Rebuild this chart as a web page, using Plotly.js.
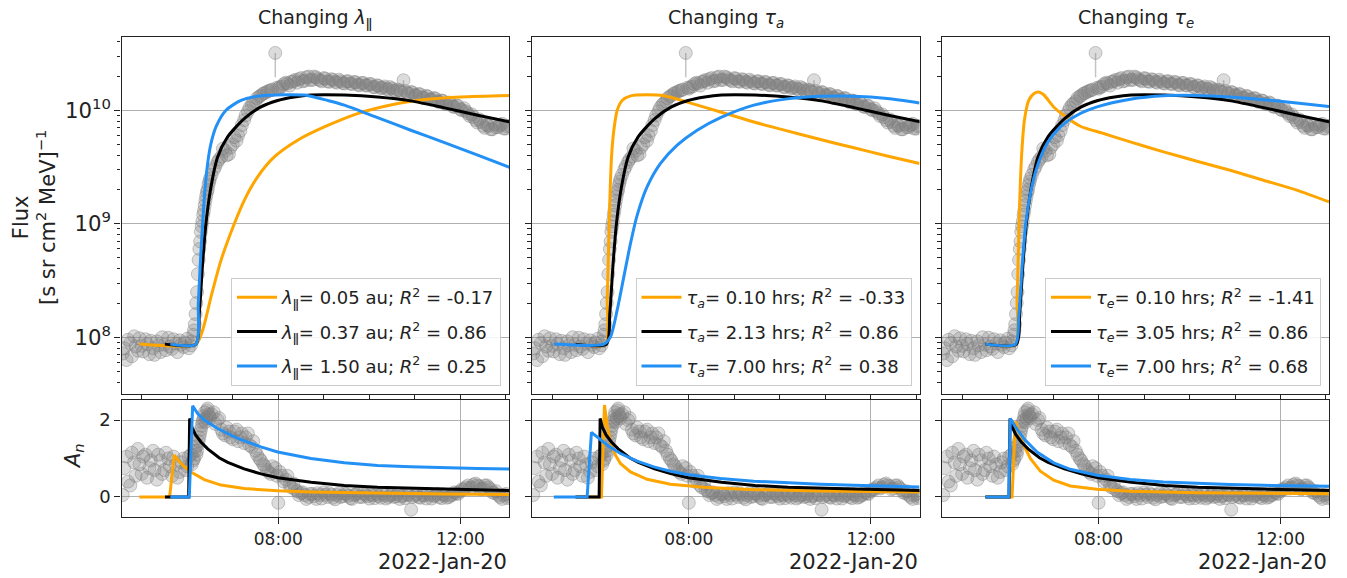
<!DOCTYPE html>
<html><head><meta charset="utf-8">
<script src="https://cdn.plot.ly/plotly-3.0.1.min.js"></script>
<style>html,body{margin:0;padding:0;background:#fff}#chart{width:1347px;height:578px}</style>
</head><body><div id="chart"></div>
<script>
// ---------------- observed data (2022-Jan-20), two interleaved sample sets ----------------
const obsTime = ["04:35","04:40","04:45","04:50","04:55","05:00","05:05","05:10","05:15","05:20","05:25","05:30","05:35","05:40","05:45","05:50","05:55","06:00","06:05","06:08","06:10","06:12","06:14","06:16","06:18","06:20","06:22","06:24","06:26","06:28","06:30","06:35","06:40","06:45","06:50","06:55","07:00","07:05","07:10","07:15","07:20","07:25","07:30","07:35","07:40","07:45","07:50","07:56","08:00","08:05","08:10","08:15","08:20","08:25","08:30","08:35","08:40","08:45","08:50","08:55","09:00","09:05","09:10","09:15","09:20","09:25","09:30","09:35","09:40","09:45","09:50","09:55","10:00","10:05","10:10","10:15","10:20","10:25","10:30","10:35","10:40","10:45","10:50","10:55","11:00","11:05","11:10","11:15","11:20","11:25","11:30","11:35","11:40","11:45","11:50","11:55","12:00","12:05","12:10","12:15","12:20","12:25","12:30","12:35","12:40","12:45","12:50","12:55","13:00","13:05"];
const obsFlux = [7.2e7,6.3e7,8.9e7,1.02e8,7.6e7,8.4e7,9.6e7,7.1e7,8.0e7,9.2e7,7.4e7,8.6e7,9.9e7,7.9e7,8.8e7,9.4e7,8.2e7,9.7e7,8.5e7,1.05e8,1.3e8,2.0e8,3.6e8,6.0e8,8.5e8,1.05e9,1.3e9,1.6e9,1.9e9,2.2e9,2.5e9,3.0e9,3.5e9,3.9e9,4.4e9,4.1e9,5.0e9,5.4e9,6.6e9,8.2e9,9.8e9,1.12e10,1.2e10,1.32e10,1.4e10,1.45e10,1.5e10,3.2e10,1.55e10,1.62e10,1.75e10,1.65e10,1.8e10,1.75e10,1.92e10,1.82e10,1.98e10,1.85e10,1.95e10,1.84e10,1.92e10,1.8e10,1.88e10,1.78e10,1.86e10,1.74e10,1.8e10,1.72e10,1.78e10,1.68e10,1.74e10,1.66e10,1.7e10,1.6e10,1.66e10,1.57e10,1.62e10,1.52e10,1.56e10,1.47e10,1.5e10,1.84e10,1.42e10,1.45e10,1.36e10,1.39e10,1.3e10,1.34e10,1.25e10,1.28e10,1.2e10,1.22e10,1.14e10,1.17e10,1.08e10,1.1e10,1.02e10,1.04e10,9.4e9,9.2e9,8.2e9,8.3e9,7.3e9,7.4e9,6.8e9,7.5e9,7.1e9,7.6e9,6.9e9,7.3e9];
const obsFluxErrLow = [0,0,0,0,0,0,0,0,0,0,0,0,0,0,0,0,0,0,0,0,0,0,0,0,0,0,0,0,0,0,0,0,0,0,0,0,0,0,0,0,0,0,0,0,0,0,0,1.25e10,0,0,0,0,0,0,0,0,0,0,0,0,0,0,0,0,0,0,0,0,0,0,0,0,0,0,0,0,0,0,0,0,0,2.5e9,0,0,0,0,0,0,0,0,0,0,0,0,0,0,0,0,0,0,0,0,0,0,0,0,0,0,0,0];
const obsAn = [0.05,1.05,0.3,0.9,1.25,0.6,1.1,0.75,1.2,0.45,0.95,0.7,1.0,0.55,0.85,0.65,1.0,0.8,1.1,0.95,1.2,1.1,1.35,1.55,1.75,1.95,2.1,1.95,2.25,2.15,2.05,2.2,2.0,1.75,1.6,1.7,1.5,1.75,1.55,1.4,1.65,1.3,1.2,1.0,0.85,0.7,0.6,0.75,-0.15,0.55,0.45,0.3,0.35,0.15,0.1,0.05,0.0,0.08,-0.05,0.05,0.12,0.0,0.06,-0.06,0.1,0.02,0.08,-0.03,0.05,0.1,0.0,0.06,-0.04,0.04,0.08,-0.02,0.05,0.0,0.06,0.02,-0.05,0.04,0.07,-0.33,0.03,0.0,0.06,-0.04,0.05,0.02,0.08,-0.03,0.04,0.0,0.06,0.1,0.15,0.2,0.3,0.25,0.35,0.28,0.22,0.3,0.2,0.1,0.05,-0.05,0.08,0.0];

const obsTimeB = ["04:37","04:42","04:47","04:52","04:57","05:02","05:07","05:12","05:17","05:22","05:27","05:32","05:37","05:42","05:47","05:52","05:57","06:02","06:06","06:09","06:11","06:13","06:15","06:17","06:19","06:21","06:23","06:25","06:27","06:29","06:32","06:37","06:42","06:47","06:52","06:57","07:02","07:07","07:12","07:17","07:22","07:27","07:32","07:37","07:42","07:47","07:52","07:58","08:02","08:07","08:12","08:17","08:22","08:27","08:32","08:37","08:42","08:47","08:52","08:57","09:02","09:07","09:12","09:17","09:22","09:27","09:32","09:37","09:42","09:47","09:52","09:57","10:02","10:07","10:12","10:17","10:22","10:27","10:32","10:37","10:42","10:47","10:52","10:57","11:02","11:07","11:12","11:17","11:22","11:27","11:32","11:37","11:42","11:47","11:52","11:57","12:02","12:07","12:12","12:17","12:22","12:27","12:32","12:37","12:42","12:47","12:52","12:57","13:02"];
const obsFluxB = [8.0e7,9.5e7,6.8e7,8.3e7,9.8e7,7.5e7,8.7e7,9.3e7,7.0e7,8.5e7,1.0e8,7.7e7,8.3e7,9.6e7,7.4e7,8.6e7,9.0e7,8.0e7,9.2e7,1.15e8,1.6e8,2.5e8,4.8e8,7.0e8,9.5e8,1.2e9,1.45e9,1.75e9,2.0e9,2.35e9,2.7e9,3.2e9,3.7e9,4.6e9,4.0e9,4.7e9,5.8e9,6.0e9,7.4e9,9.0e9,1.05e10,1.15e10,1.28e10,1.35e10,1.42e10,1.48e10,1.52e10,1.58e10,1.6e10,1.7e10,1.72e10,1.78e10,1.85e10,1.88e10,1.8e10,1.95e10,1.85e10,1.98e10,1.88e10,1.8e10,1.9e10,1.78e10,1.85e10,1.75e10,1.8e10,1.72e10,1.8e10,1.7e10,1.76e10,1.66e10,1.74e10,1.65e10,1.7e10,1.6e10,1.64e10,1.58e10,1.55e10,1.6e10,1.5e10,1.52e10,1.45e10,1.48e10,1.4e10,1.43e10,1.35e10,1.38e10,1.28e10,1.32e10,1.24e10,1.27e10,1.18e10,1.21e10,1.13e10,1.15e10,1.07e10,1.09e10,1.0e10,9.8e9,8.9e9,8.7e9,7.8e9,7.9e9,7.0e9,7.3e9,6.8e9,7.1e9,7.4e9,6.9e9,7.2e9];
const obsAnB = [0.75,0.4,1.15,0.55,0.85,1.05,0.5,0.95,0.7,1.1,0.6,1.15,0.8,1.05,0.5,0.9,0.7,1.05,0.85,1.0,1.3,1.2,1.45,1.65,1.85,2.0,2.2,2.05,2.3,2.1,2.15,1.9,2.05,1.65,1.8,1.55,1.7,1.45,1.65,1.55,1.35,1.45,1.1,0.95,0.8,0.65,0.8,0.55,0.65,0.4,0.55,0.25,0.2,0.05,0.12,-0.05,0.08,0.02,0.1,-0.04,0.06,0.1,-0.02,0.05,0.0,0.09,0.03,-0.05,0.07,0.0,0.1,0.02,0.06,-0.03,0.03,0.09,-0.04,0.04,0.0,0.08,0.02,-0.03,0.05,0.0,0.07,-0.02,0.04,0.08,-0.04,0.05,0.0,0.07,-0.02,0.04,0.12,0.08,0.2,0.25,0.22,0.32,0.3,0.2,0.3,0.25,0.12,0.15,0.0,0.05,-0.03];

// ---------------- model fits: time in decimal hours ----------------
const bestT   = [5.511,6.192,6.265,6.338,6.411,6.521,6.668,6.887,7.253,7.619,7.985,8.351,8.717,9.45,10.18,10.91,11.65,12.38,13.09];
const bestF   = [8.7e7,8.7e7,1.62e8,4.46e8,1.0e9,2.11e9,3.88e9,5.82e9,8.45e9,1.07e10,1.22e10,1.31e10,1.36e10,1.36e10,1.31e10,1.21e10,1.05e10,9.04e9,7.89e9];
const bestAnT = [5.511,6.031,6.053,6.10,6.18,6.30,6.45,6.70,6.89,7.25,7.62,7.99,8.72,9.45,10.18,10.91,11.65,13.09];
const bestAn  = [0,0,2.04,1.82,1.62,1.43,1.25,1.02,0.90,0.73,0.60,0.50,0.38,0.30,0.255,0.225,0.205,0.17];

const lam005T = [4.947,6.192,6.338,6.521,6.741,7.034,7.253,7.546,7.912,8.425,9.01,9.742,10.548,11.28,12.01,13.09];
const lam005F = [8.7e7,8.7e7,1.15e8,2.26e8,4.76e8,1.0e9,1.61e9,2.59e9,3.88e9,5.45e9,7.13e9,9.35e9,1.13e10,1.25e10,1.31e10,1.35e10];
const lam005AnT = [4.947,5.613,5.716,5.789,5.899,6.082,6.375,6.741,7.253,7.985,8.717,10.18,11.65,13.09];
const lam005An  = [0,0,1.09,0.97,0.83,0.65,0.45,0.31,0.22,0.16,0.13,0.095,0.078,0.062];
const lam150T = [5.628,6.192,6.243,6.287,6.338,6.389,6.448,6.521,6.631,6.851,7.18,7.619,8.132,8.571,9.083,9.45,10.18,10.91,11.65,12.38,13.09];
const lam150F = [8.7e7,8.7e7,1.98e8,4.46e8,1.0e9,1.97e9,3.39e9,5.08e9,7.13e9,1.0e10,1.22e10,1.34e10,1.37e10,1.36e10,1.22e10,1.11e10,8.61e9,6.67e9,5.19e9,4.02e9,3.13e9];
const lam150AnT = [5.628,6.045,6.119,6.228,6.375,6.668,7.107,7.619,7.985,8.717,9.45,10.18,10.91,11.65,12.38,13.09];
const lam150An  = [0,0,2.37,2.17,2.0,1.78,1.52,1.3,1.17,1.0,0.887,0.817,0.783,0.757,0.739,0.73];

const ta010T = [5.512,6.171,6.208,6.237,6.266,6.303,6.354,6.428,6.537,6.72,7.086,7.452,7.965,8.697,9.429,10.161,10.893,11.625,12.357,13.067];
const ta010F = [8.7e7,8.7e7,2.13e8,5.86e8,1.61e9,3.88e9,6.67e9,1.0e10,1.22e10,1.34e10,1.37e10,1.34e10,1.18e10,9.66e9,7.89e9,6.58e9,5.52e9,4.67e9,3.96e9,3.4e9];
const ta010AnT = [5.511,6.082,6.148,6.206,6.28,6.39,6.499,6.719,7.085,7.597,8.329,9.428,10.892,13.066];
const ta010An  = [0,0,2.39,1.87,1.43,1.087,0.87,0.652,0.46,0.33,0.252,0.191,0.157,0.13];
const ta700T = [5.037,6.135,6.281,6.428,6.574,6.72,6.867,7.086,7.379,7.745,8.184,8.697,9.429,10.161,10.893,11.625,12.357,13.067];
const ta700F = [8.7e7,8.7e7,1.01e8,1.74e8,3.42e8,6.71e8,1.19e9,2.12e9,3.4e9,4.92e9,6.67e9,8.61e9,1.11e10,1.26e10,1.33e10,1.33e10,1.27e10,1.16e10];
const ta700AnT = [5.035,5.767,5.862,5.987,6.206,6.499,6.865,7.231,7.597,7.963,8.695,9.428,10.16,10.892,11.624,12.356,13.066];
const ta700An  = [0,0,1.68,1.565,1.35,1.13,0.93,0.783,0.67,0.583,0.478,0.409,0.365,0.33,0.304,0.278,0.26];

const te010T = [5.512,6.171,6.208,6.237,6.266,6.31,6.369,6.464,6.574,6.684,6.794,7.013,7.233,7.599,8.111,8.697,9.429,10.161,10.893,11.625,12.357,13.067];
const te010F = [8.7e7,8.7e7,2.13e8,5.86e8,1.61e9,4.16e9,8.17e9,1.22e10,1.4e10,1.45e10,1.37e10,1.07e10,9.04e9,7.23e9,6.24e9,5.26e9,4.3e9,3.56e9,2.96e9,2.42e9,1.98e9,1.56e9];
const te010AnT = [5.511,6.097,6.17,6.243,6.353,6.499,6.719,7.012,7.378,7.963,8.695,10.16,11.624,13.066];
const te010An  = [0,0,1.96,1.7,1.35,1.0,0.67,0.435,0.287,0.2,0.148,0.113,0.096,0.087];
const te700T = [5.512,6.171,6.244,6.318,6.391,6.501,6.647,6.867,7.16,7.526,7.965,8.697,9.429,10.161,10.893,11.625,12.357,13.067];
const te700F = [8.7e7,8.7e7,1.52e8,4.19e8,9.42e8,1.85e9,3.17e9,5.09e9,7.13e9,9.04e9,1.07e10,1.25e10,1.34e10,1.35e10,1.31e10,1.24e10,1.16e10,1.08e10];
const te700AnT = [5.511,6.023,6.06,6.17,6.353,6.646,7.012,7.378,7.963,8.695,9.428,10.16,10.892,11.624,13.066];
const te700An  = [0,0,2.04,1.83,1.52,1.17,0.887,0.72,0.565,0.452,0.391,0.348,0.322,0.304,0.278];

// ---------------- text ----------------
const PAR = "\u01C1";
const panelTitles = ["Changing <i>λ</i><sub>" + PAR + "</sub>", "Changing <i>τ</i><sub><i>a</i></sub>", "Changing <i>τ</i><sub><i>e</i></sub>"];
const legendLabels = [
  ["<i>λ</i><sub>" + PAR + "</sub>= 0.05 au; <i>R</i><sup>2</sup> = -0.17", "<i>λ</i><sub>" + PAR + "</sub>= 0.37 au; <i>R</i><sup>2</sup> = 0.86", "<i>λ</i><sub>" + PAR + "</sub>= 1.50 au; <i>R</i><sup>2</sup> = 0.25"],
  ["<i>τ</i><sub><i>a</i></sub>= 0.10 hrs; <i>R</i><sup>2</sup> = -0.33", "<i>τ</i><sub><i>a</i></sub>= 2.13 hrs; <i>R</i><sup>2</sup> = 0.86", "<i>τ</i><sub><i>a</i></sub>= 7.00 hrs; <i>R</i><sup>2</sup> = 0.38"],
  ["<i>τ</i><sub><i>e</i></sub>= 0.10 hrs; <i>R</i><sup>2</sup> = -1.41", "<i>τ</i><sub><i>e</i></sub>= 3.05 hrs; <i>R</i><sup>2</sup> = 0.86", "<i>τ</i><sub><i>e</i></sub>= 7.00 hrs; <i>R</i><sup>2</sup> = 0.68"]
];
const timeTickVals = ["08:00", "12:00"];
const dateLabel = "2022-Jan-20";

// ---------------- helpers ----------------
const DAY = "2022-01-20 ";
const pad = n => String(n).padStart(2, "0");
const hd = h => { const s = Math.round(h * 3600); return DAY + pad(Math.floor(s / 3600)) + ":" + pad(Math.floor(s % 3600 / 60)) + ":" + pad(s % 60); };
const allX = obsTime.concat(obsTimeB).map(t => DAY + t);
const allFlux = obsFlux.concat(obsFluxB);
const allErr = obsFluxErrLow.concat(obsFluxB.map(() => 0));
const allAn = obsAn.concat(obsAnB);

const ORANGE = "#FFA500", BLACK = "#000000", BLUE = "#2390F5";
const W = 1347, H = 578;
const xDom = [[121.5, 509], [532, 919.5], [942, 1329]];
const topDom = [(H - 394) / H, (H - 36.5) / H];
const botDom = [(H - 517) / H, (H - 400) / H];
const xRange = [DAY + "04:33:24", DAY + "13:04:00"];

const fits = [
  {flux: [[lam005T, lam005F], [bestT, bestF], [lam150T, lam150F]], an: [[lam005AnT, lam005An], [bestAnT, bestAn], [lam150AnT, lam150An]]},
  {flux: [[ta010T, ta010F], [bestT, bestF], [ta700T, ta700F]], an: [[ta010AnT, ta010An], [bestAnT, bestAn], [ta700AnT, ta700An]]},
  {flux: [[te010T, te010F], [bestT, bestF], [te700T, te700F]], an: [[te010AnT, te010An], [bestAnT, bestAn], [te700AnT, te700An]]}
];
const colors = [ORANGE, BLACK, BLUE];

const traces = [];
const layout = {
  width: W, height: H, margin: {l: 0, r: 0, t: 0, b: 0},
  paper_bgcolor: "#fff", plot_bgcolor: "#fff",
  font: {family: "DejaVu Sans", size: 16, color: "#222"},
  showlegend: true, annotations: []
};

const obsMarker = {size: 13, color: "rgba(128,128,128,0.28)", line: {color: "rgba(120,120,120,0.4)", width: 1}};

for (let p = 0; p < 3; p++) {
  const xa = p === 0 ? "x" : "x" + (p + 1), ya = p === 0 ? "y" : "y" + (p + 1);
  const xb = "x" + (p + 4), yb = "y" + (p + 4);
  const legName = p === 0 ? "legend" : "legend" + (p + 1);
  traces.push({x: allX, y: allFlux, xaxis: xa, yaxis: ya, type: "scatter", mode: "markers", showlegend: false, hoverinfo: "skip",
    marker: obsMarker,
    error_y: {type: "data", symmetric: false, array: allErr.map(() => 0), arrayminus: allErr, color: "rgba(170,170,170,0.7)", thickness: 1.5, width: 0}});
  traces.push({x: allX, y: allAn, xaxis: xb, yaxis: yb, type: "scatter", mode: "markers", showlegend: false, hoverinfo: "skip",
    marker: obsMarker});
  for (let k = 0; k < 3; k++) {
    const [ft, fv] = fits[p].flux[k], [at, av] = fits[p].an[k];
    traces.push({x: ft.map(hd), y: fv, xaxis: xa, yaxis: ya, type: "scatter", mode: "lines", name: legendLabels[p][k],
      legend: legName, legendgroup: "g" + p + k, line: {color: colors[k], width: 3, shape: "spline", smoothing: 0.7}});
    traces.push({x: at.map(hd), y: av, xaxis: xb, yaxis: yb, type: "scatter", mode: "lines", showlegend: false,
      line: {color: colors[k], width: 3}});
  }
  const dom = [xDom[p][0] / W, xDom[p][1] / W];
  const axLine = {showline: true, mirror: true, linecolor: "#222", linewidth: 1.3, zeroline: false};
  layout[xa === "x" ? "xaxis" : "xaxis" + (p + 1)] = Object.assign({domain: dom, anchor: ya, type: "date", range: xRange,
    showticklabels: false, ticks: "outside", ticklen: 5, tickcolor: "#222", tick0: DAY + "00:00", dtick: 3600000, showgrid: false}, axLine);
  layout[ya === "y" ? "yaxis" : "yaxis" + (p + 1)] = Object.assign({domain: topDom, anchor: xa, type: "log", range: [7.5, 10.65],
    tickmode: "linear", tick0: 0, dtick: 1, exponentformat: "power", showexponent: "all",
    showticklabels: p === 0, ticks: "outside", ticklen: 6, tickcolor: "#222",
    tickfont: {size: 17}, showgrid: true, gridcolor: "#b0b0b0", gridwidth: 1,
    minor: {dtick: "D1", ticks: "outside", ticklen: 3.5, tickcolor: "#222", showgrid: false}}, axLine);
  layout["xaxis" + (p + 4)] = Object.assign({domain: dom, anchor: yb, type: "date", range: xRange,
    tickvals: timeTickVals.map(t => DAY + t), ticktext: timeTickVals, ticks: "outside", ticklen: 6, tickcolor: "#222",
    tickfont: {size: 17}, showgrid: true, gridcolor: "#b0b0b0", gridwidth: 1}, axLine);
  layout["yaxis" + (p + 4)] = Object.assign({domain: botDom, anchor: xb, range: [-0.52, 2.52], tickvals: [0, 2],
    showticklabels: p === 0, ticks: "outside", ticklen: 6, tickcolor: "#222", tickfont: {size: 18},
    showgrid: true, gridcolor: "#b0b0b0", gridwidth: 1}, axLine);
  layout[legName] = {x: (xDom[p][1] - 8) / W, xanchor: "right", y: (H - 386) / H, yanchor: "bottom",
    bgcolor: "rgba(255,255,255,0.85)", bordercolor: "#cccccc", borderwidth: 1, font: {size: 18, color: "#222"},
    tracegroupgap: 8, itemwidth: 40, traceorder: "grouped"};
  layout.annotations.push({text: panelTitles[p], xref: "paper", yref: "paper", x: (xDom[p][0] + xDom[p][1]) / 2 / W, y: (H - 18) / H,
    xanchor: "center", yanchor: "middle", showarrow: false, font: {size: 19, color: "#222"}});
  layout.annotations.push({text: dateLabel, xref: "paper", yref: "paper", x: xDom[p][1] / W, y: (H - 562) / H,
    xanchor: "right", yanchor: "middle", showarrow: false, font: {size: 21, color: "#222"}});
}
layout.annotations.push({text: "Flux<br>[s sr cm<sup>2</sup> MeV]<sup>−1</sup>", xref: "paper", yref: "paper", x: 34 / W, y: (H - 218) / H,
  xanchor: "center", yanchor: "middle", textangle: -90, showarrow: false, font: {size: 21, color: "#222"}});
layout.annotations.push({text: "<i>A</i><sub><i>n</i></sub>", xref: "paper", yref: "paper", x: 74 / W, y: (H - 456) / H,
  xanchor: "center", yanchor: "middle", textangle: -90, showarrow: false, font: {size: 21, color: "#222"}});

Plotly.newPlot("chart", traces, layout, {displayModeBar: false, responsive: false});
</script>
</body></html>
